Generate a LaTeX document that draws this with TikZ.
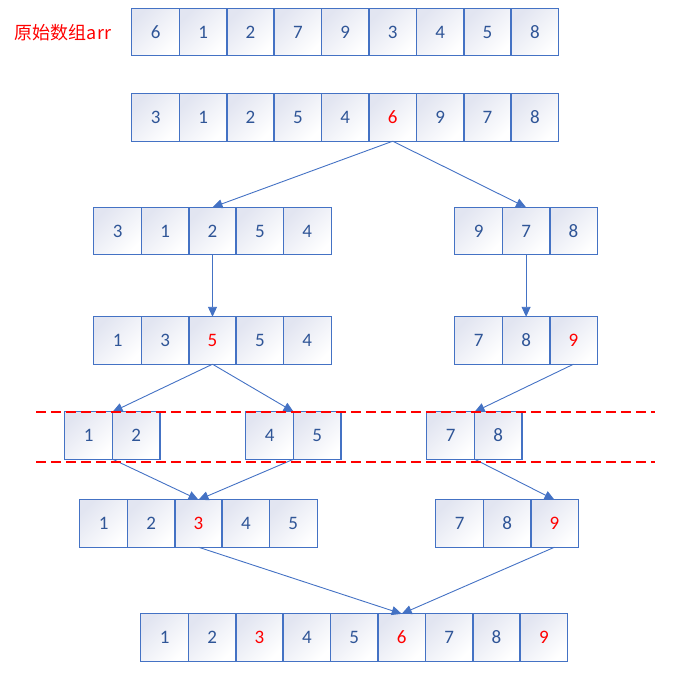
\documentclass[tikz,border=0pt]{standalone}
\usepackage{fontspec}
\setmainfont{Carlito}
\newfontfamily\cjk{Noto Sans CJK SC}
\usetikzlibrary{arrows.meta}
\definecolor{cellblue}{HTML}{4472C4}
\definecolor{numblue}{HTML}{2F5597}
\definecolor{cellshade}{HTML}{E2E5F1}
\tikzset{
	cell/.style={minimum width=47.4pt, minimum height=47pt, inner sep=0pt,
		top color=cellshade, bottom color=white, shading angle=45, text=numblue, font=\fontsize{19}{22}\selectfont},
	cellline/.style={draw=cellblue, line width=1.2pt},
	link/.style={draw=cellblue, line width=0.9pt, -{Triangle[width=9pt,length=10pt]}},
	cut/.style={draw=red, line width=1.1pt, dash pattern=on 10pt off 5pt}
}
\def\redv#1{\textcolor{red}{#1}}
\def\cellrow[#1](#2,#3)#4{%
	\foreach \v [count=\i] in {#4} \node[cell] (#1-\i) at ({#2+(\i-0.5)*47.4}, #3) {\v};
	\foreach \v [count=\i] in {#4} \draw[cellline] (#1-\i.north west) rectangle (#1-\i.south east);}

\begin{document}
\begin{tikzpicture}[x=1pt, y=-1pt]
			%%%%% START %%%%%
			\useasboundingbox (0, 0) rectangle (695, 699);
			
			\node[text=red, font=\cjk\fontsize{18}{20}\selectfont] (title) at (63, 33) {原始数组arr};
			
			\cellrow[orig](132, 32){6,1,2,7,9,3,4,5,8}
			\cellrow[pivot](132, 117.5){3,1,2,5,4,\redv{6},9,7,8}
			
			\cellrow[left](94, 231){3,1,2,5,4}
			\cellrow[right](455, 231){9,7,8}
			
			\cellrow[leftp](94, 340.5){1,3,\redv{5},5,4}
			\cellrow[rightp](455, 340.5){7,8,\redv{9}}
			
			\cellrow[ga](65, 435.5){1,2}
			\cellrow[gb](246, 435.5){4,5}
			\cellrow[gc](427, 435.5){7,8}
			
			\cellrow[leftm](80, 523.5){1,2,\redv{3},4,5}
			\cellrow[rightm](436, 523.5){7,8,\redv{9}}
			
			\cellrow[sorted](141, 637.5){1,2,\redv{3},4,5,\redv{6},7,8,\redv{9}}
			
			\draw[link] (pivot-6.south) -- (left-3.north);
			\draw[link] (pivot-6.south) -- (right-2.north);
			\draw[link] (left-3.south) -- (leftp-3.north);
			\draw[link] (right-2.south) -- (rightp-2.north);
			
			\draw[link] (leftp-3.south) -- (ga-1.north east);
			\draw[link] (leftp-3.south) -- (gb-1.north east);
			\draw[link] (rightp-3.south) -- (gc-1.north east);
			
			\draw[link] (ga-1.south east) -- (leftm-3.north);
			\draw[link] (gb-1.south east) -- (leftm-3.north);
			\draw[link] (gc-1.south east) -- (rightm-3.north);
			
			\draw[link] (leftm-3.south) -- (sorted-6.north);
			\draw[link] (rightm-3.south) -- (sorted-6.north);
			
			\coordinate (cut1a) at (36, 412);
			\coordinate (cut1b) at (655, 412);
			\coordinate (cut2a) at (36, 462);
			\coordinate (cut2b) at (655, 462);
			\draw[cut] (cut1a) -- (cut1b);
			\draw[cut] (cut2a) -- (cut2b);
			
			%%%%% END %%%%%
\end{tikzpicture}
\end{document}
